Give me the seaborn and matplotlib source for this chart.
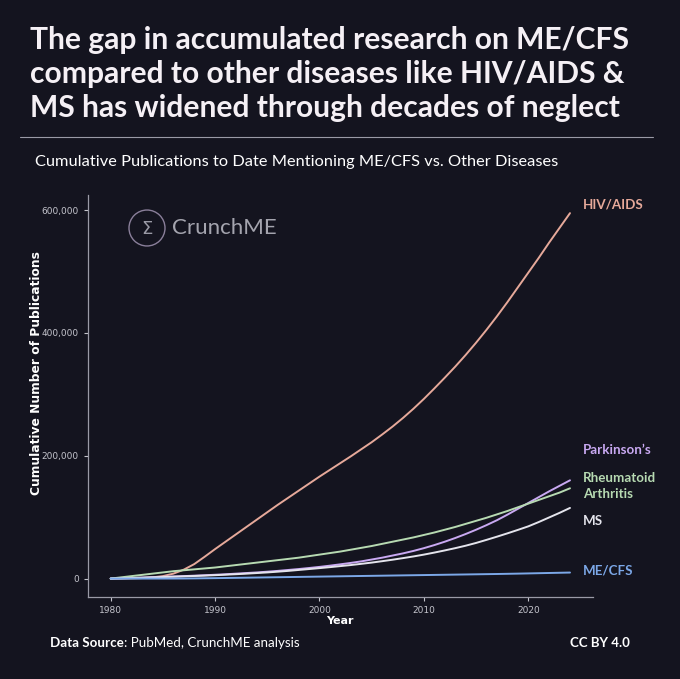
import matplotlib
matplotlib.use('Agg')
import matplotlib.pyplot as plt
import matplotlib.transforms as mtransforms
from matplotlib.patches import Circle
import pandas as pd
import seaborn as sns

years = list(range(1980, 2025))

hiv_aids = [0, 0, 200, 800, 2000, 4000, 8000, 14500, 23500, 35500,
            48000, 60000, 72000, 84000, 96000, 108000, 120000, 131500, 143000, 154500,
            166000, 177000, 188000, 199000, 210500, 222000, 234500, 247500, 261500, 276500,
            292500, 309500, 327000, 345000, 364000, 384000, 405000, 427000, 450000, 474000,
            498000, 522000, 547000, 571000, 595000]
parkinsons = [0, 500, 1000, 1600, 2200, 2800, 3400, 4000, 4700, 5400,
              6200, 7000, 8000, 9000, 10000, 11200, 12500, 14000, 15500, 17200,
              19000, 21000, 23200, 25500, 28000, 31000, 34000, 37500, 41000, 45000,
              49500, 54500, 60000, 66000, 72500, 79500, 87000, 95000, 104000, 113500,
              123000, 132500, 142000, 151000, 160000]
rheumatoid = [0, 2000, 4000, 6000, 8000, 10000, 12000, 13500, 15000, 16500,
              18000, 20000, 22000, 24000, 26000, 28000, 30000, 32000, 34000, 36500,
              39000, 41500, 44000, 47000, 50000, 53000, 56500, 60000, 63500, 67000,
              71000, 75000, 79500, 84000, 89000, 94000, 99000, 104500, 110000, 116000,
              122000, 128000, 134000, 140000, 147000]
ms = [0, 400, 900, 1400, 1900, 2500, 3000, 3600, 4200, 4800,
      5500, 6300, 7100, 8000, 9000, 10000, 11200, 12500, 14000, 15500,
      17000, 18600, 20300, 22000, 24000, 26000, 28300, 30700, 33300, 36000,
      39000, 42300, 45800, 49500, 53500, 58000, 63000, 68200, 73600, 79200,
      85000, 92000, 99500, 107000, 115000]
me_cfs = [0, 0, 0, 0, 0, 20, 60, 150, 300, 500,
          700, 950, 1200, 1450, 1700, 1950, 2200, 2450, 2700, 2950,
          3200, 3450, 3700, 3950, 4200, 4450, 4700, 4950, 5200, 5450,
          5700, 5950, 6200, 6450, 6700, 6950, 7200, 7450, 7750, 8050,
          8400, 8750, 9100, 9450, 9800]

diseases = ['HIV/AIDS', "Parkinson's", 'Rheumatoid Arthritis', 'MS', 'ME/CFS']
colors = ['#e6a99a', '#c9a9f2', '#b7dab2', '#e4e4ec', '#7ca8e8']
label_text = ['HIV/AIDS', 'Parkinson\u2019s', 'Rheumatoid\nArthritis', 'MS', 'ME/CFS']
label_y = [609000, 210000, 151000, 94000, 13000]

bg = '#14141f'

df = pd.DataFrame({'Year': years * 5,
                   'Count': hiv_aids + parkinsons + rheumatoid + ms + me_cfs,
                   'Disease': [d for d in diseases for _ in years]})

sns.set_style('dark', {'axes.facecolor': bg, 'figure.facecolor': bg,
                       'axes.edgecolor': '#9a9aa6', 'axes.grid': False})
plt.rcParams['font.family'] = ['DejaVu Sans']

fig = plt.figure(figsize=(6.8, 6.79), dpi=100)
ax = fig.add_axes([0.129, 0.121, 0.743, 0.592])

sns.lineplot(data=df, x='Year', y='Count', hue='Disease', hue_order=diseases,
             palette=colors, linewidth=1.4, legend=False, ax=ax)

for s in ['top', 'right']:
    ax.spines[s].set_visible(False)
for s in ['left', 'bottom']:
    ax.spines[s].set_color('#9a9aa6')
    ax.spines[s].set_linewidth(0.9)

ax.set_xticks([1980, 1990, 2000, 2010, 2020])
ax.set_yticks([0, 200000, 400000, 600000])
ax.yaxis.set_major_formatter(matplotlib.ticker.FuncFormatter(lambda v, p: f'{int(v):,}'))
ax.tick_params(colors='#c4c4cc', labelsize=6.5, length=3, width=0.8, left=True, bottom=True)
ax.set_xlabel('Year', color='white', fontsize=8, fontweight='bold', labelpad=1)
ax.set_ylabel('Cumulative Number of Publications', color='white', fontsize=8.8,
              fontweight='bold')
ax.yaxis.set_label_coords(-0.089, 0.557)

trans = mtransforms.blended_transform_factory(ax.transAxes, ax.transData)
for txt, yy, c in zip(label_text, label_y, colors):
    ax.text(0.98, yy, txt, transform=trans, color=c, fontsize=9.6, family='Lato',
            fontweight='bold', va='center', ha='left', linespacing=1.45)

# watermark
circ = Circle((147 / 680, 1 - 228 / 679), 18 / 680, transform=fig.transFigure,
              fill=False, edgecolor='#8a7f9a', linewidth=1.0)
fig.patches.append(circ)
fig.text(147 / 680, 1 - 229 / 679, '\u03a3', color='#9a9aa6', fontsize=13,
         ha='center', va='center')
fig.text(172 / 680, 1 - 228 / 679, 'CrunchME', color='#a4a4ae', fontsize=16,
         family='Lato', ha='left', va='center')

# titles
fig.text(30 / 680, 1 - 26 / 679,
         'The gap in accumulated research on ME/CFS\ncompared to other diseases like HIV/AIDS &\nMS has widened through decades of neglect',
         color='#f5f0f5', fontsize=21.6, family='Lato', fontweight='bold',
         ha='left', va='top', linespacing=1.26)
fig.add_artist(plt.Line2D([20 / 680, 653 / 680], [1 - 137 / 679, 1 - 137 / 679],
                          color='#9a9aa6', linewidth=0.8, transform=fig.transFigure))
fig.text(35 / 680, 1 - 162 / 679,
         'Cumulative Publications to Date Mentioning ME/CFS vs. Other Diseases',
         color='white', fontsize=11.8, family='Lato', ha='left', va='center')

# footer
t1 = fig.text(50 / 680, 1 - 643 / 679, 'Data Source', color='white', fontsize=9.6,
              family='Lato', fontweight='bold', ha='left', va='center')
fig.canvas.draw()
x1 = t1.get_window_extent().x1 / fig.bbox.width
fig.text(x1, 1 - 643 / 679, ': PubMed, CrunchME analysis', color='white', fontsize=9.6,
         family='Lato', ha='left', va='center')
fig.text(630 / 680, 1 - 643 / 679, 'CC BY 4.0', color='white', fontsize=9.5,
         family='Lato', fontweight='bold', ha='right', va='center')

fig.savefig('out.png', dpi=100, facecolor=bg)
